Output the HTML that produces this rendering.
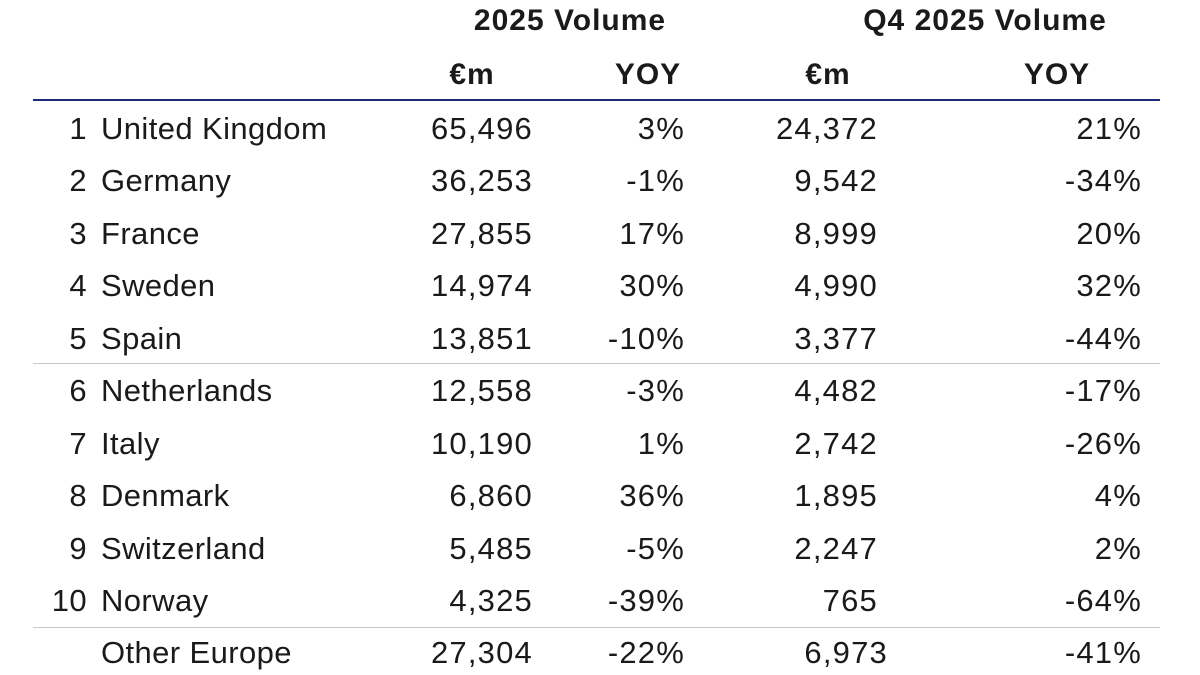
<!DOCTYPE html>
<html><head><meta charset="utf-8"><style>
html,body{margin:0;padding:0;background:#fff;}
svg{display:block}
text{font-family:"Liberation Sans",sans-serif;fill:#1a1a1a;}
.h{font-weight:bold;font-size:30px;letter-spacing:1px;}
.d{font-size:31px;letter-spacing:0.4px;}
.n{font-size:31px;letter-spacing:1.2px;}
</style></head><body>
<svg width="1200" height="675" viewBox="0 0 1200 675">
<text class="h" x="570" y="30" text-anchor="middle">2025 Volume</text>
<text class="h" x="985" y="30" text-anchor="middle">Q4 2025 Volume</text>
<text class="h" x="472" y="84" text-anchor="middle">€m</text>
<text class="h" x="648" y="84" text-anchor="middle">YOY</text>
<text class="h" x="828" y="84" text-anchor="middle">€m</text>
<text class="h" x="1057" y="84" text-anchor="middle">YOY</text>
<rect x="33" y="99" width="1127" height="2" fill="#1f2a7a"/>
<rect x="33" y="363" width="1127" height="1" fill="#c8c8c8"/>
<rect x="33" y="627" width="1127" height="1" fill="#c8c8c8"/>
<g>
<text x="87" y="139" text-anchor="end" class="d">1</text><text x="101" y="139" class="d">United Kingdom</text><text x="533" y="139" text-anchor="end" class="n">65,496</text><text x="685" y="139" text-anchor="end" class="n">3%</text><text x="878" y="139" text-anchor="end" class="n">24,372</text><text x="1142" y="139" text-anchor="end" class="n">21%</text>
<text x="87" y="191" text-anchor="end" class="d">2</text><text x="101" y="191" class="d">Germany</text><text x="533" y="191" text-anchor="end" class="n">36,253</text><text x="685" y="191" text-anchor="end" class="n">-1%</text><text x="878" y="191" text-anchor="end" class="n">9,542</text><text x="1142" y="191" text-anchor="end" class="n">-34%</text>
<text x="87" y="244" text-anchor="end" class="d">3</text><text x="101" y="244" class="d">France</text><text x="533" y="244" text-anchor="end" class="n">27,855</text><text x="685" y="244" text-anchor="end" class="n">17%</text><text x="878" y="244" text-anchor="end" class="n">8,999</text><text x="1142" y="244" text-anchor="end" class="n">20%</text>
<text x="87" y="296" text-anchor="end" class="d">4</text><text x="101" y="296" class="d">Sweden</text><text x="533" y="296" text-anchor="end" class="n">14,974</text><text x="685" y="296" text-anchor="end" class="n">30%</text><text x="878" y="296" text-anchor="end" class="n">4,990</text><text x="1142" y="296" text-anchor="end" class="n">32%</text>
<text x="87" y="349" text-anchor="end" class="d">5</text><text x="101" y="349" class="d">Spain</text><text x="533" y="349" text-anchor="end" class="n">13,851</text><text x="685" y="349" text-anchor="end" class="n">-10%</text><text x="878" y="349" text-anchor="end" class="n">3,377</text><text x="1142" y="349" text-anchor="end" class="n">-44%</text>
<text x="87" y="401" text-anchor="end" class="d">6</text><text x="101" y="401" class="d">Netherlands</text><text x="533" y="401" text-anchor="end" class="n">12,558</text><text x="685" y="401" text-anchor="end" class="n">-3%</text><text x="878" y="401" text-anchor="end" class="n">4,482</text><text x="1142" y="401" text-anchor="end" class="n">-17%</text>
<text x="87" y="454" text-anchor="end" class="d">7</text><text x="101" y="454" class="d">Italy</text><text x="533" y="454" text-anchor="end" class="n">10,190</text><text x="685" y="454" text-anchor="end" class="n">1%</text><text x="878" y="454" text-anchor="end" class="n">2,742</text><text x="1142" y="454" text-anchor="end" class="n">-26%</text>
<text x="87" y="506" text-anchor="end" class="d">8</text><text x="101" y="506" class="d">Denmark</text><text x="533" y="506" text-anchor="end" class="n">6,860</text><text x="685" y="506" text-anchor="end" class="n">36%</text><text x="878" y="506" text-anchor="end" class="n">1,895</text><text x="1142" y="506" text-anchor="end" class="n">4%</text>
<text x="87" y="559" text-anchor="end" class="d">9</text><text x="101" y="559" class="d">Switzerland</text><text x="533" y="559" text-anchor="end" class="n">5,485</text><text x="685" y="559" text-anchor="end" class="n">-5%</text><text x="878" y="559" text-anchor="end" class="n">2,247</text><text x="1142" y="559" text-anchor="end" class="n">2%</text>
<text x="87" y="611" text-anchor="end" class="d">10</text><text x="101" y="611" class="d">Norway</text><text x="533" y="611" text-anchor="end" class="n">4,325</text><text x="685" y="611" text-anchor="end" class="n">-39%</text><text x="878" y="611" text-anchor="end" class="n">765</text><text x="1142" y="611" text-anchor="end" class="n">-64%</text>
<text x="101" y="663" class="d">Other Europe</text><text x="533" y="663" text-anchor="end" class="n">27,304</text><text x="685" y="663" text-anchor="end" class="n">-22%</text><text x="888" y="663" text-anchor="end" class="n">6,973</text><text x="1142" y="663" text-anchor="end" class="n">-41%</text>
</g>
</svg>
</body></html>
